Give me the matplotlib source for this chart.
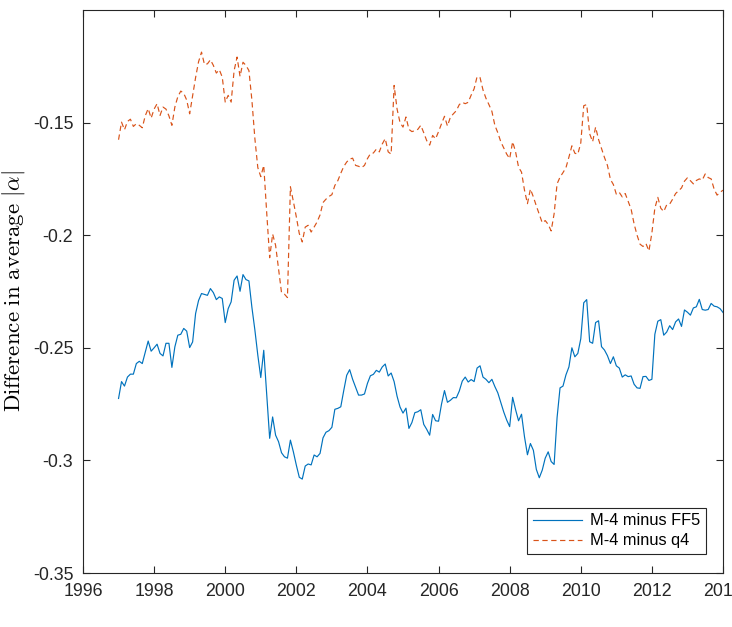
# -*- coding: utf-8 -*-
"""
difference in average |alpha|, monthly
"""
import numpy as np
import matplotlib
matplotlib.use('Agg')
import matplotlib.pyplot as plt

#====================================================
#                      Data
#====================================================
start_year = 1997

# M-4 minus FF5, one row per year (Jan..Dec)
ff5 = [
    -0.2725, -0.265, -0.267, -0.263, -0.2617, -0.2617, -0.257, -0.256, -0.257, -0.252, -0.247, -0.2515,
    -0.250, -0.2484, -0.2525, -0.2536, -0.248, -0.248, -0.2587, -0.2496, -0.2444, -0.244, -0.2414, -0.2426,
    -0.2499, -0.2474, -0.2348, -0.229, -0.2259, -0.2263, -0.2267, -0.2237, -0.2255, -0.2286, -0.2274, -0.2281,
    -0.2388, -0.2326, -0.2296, -0.220, -0.2181, -0.2249, -0.2175, -0.2197, -0.2203, -0.232, -0.242, -0.2533,
    -0.2632, -0.2511, -0.2703, -0.2902, -0.2807, -0.2888, -0.2917, -0.2966, -0.2984, -0.299, -0.291, -0.2962,
    -0.3021, -0.3075, -0.3083, -0.3025, -0.3016, -0.302, -0.2976, -0.2984, -0.2969, -0.290, -0.2875, -0.2868,
    -0.2853, -0.2773, -0.2769, -0.2762, -0.2690, -0.2622, -0.2597, -0.2640, -0.2675, -0.2710, -0.2710, -0.2705,
    -0.2658, -0.2624, -0.2618, -0.2600, -0.2608, -0.2585, -0.2572, -0.2625, -0.2612, -0.2650, -0.2715, -0.2763,
    -0.2790, -0.2768, -0.2858, -0.2832, -0.2788, -0.2784, -0.2775, -0.2840, -0.2862, -0.2888, -0.2796, -0.2824,
    -0.2826, -0.2750, -0.2690, -0.2742, -0.2733, -0.2721, -0.2722, -0.2692, -0.2648, -0.2630, -0.2652, -0.2641,
    -0.2650, -0.2590, -0.2580, -0.2630, -0.2640, -0.2655, -0.2640, -0.2672, -0.2700, -0.2742, -0.2785, -0.2821,
    -0.2850, -0.2720, -0.2775, -0.2824, -0.2795, -0.2895, -0.2975, -0.2925, -0.2955, -0.3040, -0.3077, -0.3043,
    -0.2990, -0.2962, -0.3005, -0.3018, -0.2810, -0.2678, -0.2670, -0.2620, -0.2585, -0.2500, -0.2540, -0.2525,
    -0.2460, -0.2300, -0.2286, -0.2473, -0.2480, -0.2388, -0.2380, -0.2495, -0.2510, -0.2535, -0.2570, -0.2540,
    -0.2580, -0.2590, -0.2630, -0.2620, -0.2628, -0.2625, -0.2662, -0.2678, -0.2680, -0.2628, -0.2627, -0.2645,
    -0.2640, -0.2440, -0.2382, -0.2375, -0.2444, -0.2430, -0.2402, -0.2419, -0.2385, -0.2372, -0.2405, -0.2332,
    -0.2342, -0.2355, -0.2323, -0.2318, -0.2285, -0.2330, -0.2333, -0.2330, -0.2303, -0.2315, -0.2318, -0.2326,
    -0.2343,
]

# M-4 minus q4
q4 = [
    -0.1576, -0.1498, -0.1532, -0.1495, -0.1485, -0.1517, -0.1505, -0.1512, -0.1523, -0.1470, -0.1438, -0.1480,
    -0.1440, -0.1416, -0.1468, -0.1431, -0.1440, -0.1470, -0.1512, -0.1431, -0.1385, -0.1360, -0.1370, -0.1400,
    -0.1461, -0.1380, -0.1300, -0.1230, -0.1187, -0.1242, -0.1239, -0.1221, -0.1246, -0.1280, -0.1265, -0.1298,
    -0.1409, -0.1379, -0.1409, -0.1269, -0.1209, -0.1295, -0.1232, -0.1246, -0.1269, -0.1400, -0.1570, -0.1700,
    -0.1740, -0.1690, -0.1900, -0.2100, -0.1995, -0.2045, -0.2150, -0.2255, -0.2262, -0.2277, -0.1785, -0.1850,
    -0.1919, -0.1993, -0.2030, -0.1964, -0.1956, -0.1986, -0.1964, -0.1941, -0.1910, -0.1855, -0.1840, -0.1828,
    -0.1820, -0.1779, -0.1758, -0.1725, -0.1695, -0.1675, -0.1662, -0.1658, -0.1690, -0.1694, -0.1700, -0.1690,
    -0.1660, -0.1638, -0.1635, -0.1618, -0.1630, -0.1595, -0.1571, -0.1630, -0.1640, -0.1335, -0.1440, -0.1500,
    -0.1520, -0.1475, -0.1530, -0.1540, -0.1536, -0.1530, -0.1512, -0.1545, -0.1580, -0.1600, -0.1557, -0.1572,
    -0.1540, -0.1505, -0.1472, -0.1515, -0.1476, -0.1461, -0.1447, -0.1420, -0.1410, -0.1416, -0.1410, -0.1378,
    -0.1350, -0.1296, -0.1300, -0.1355, -0.1392, -0.1420, -0.1450, -0.1512, -0.1545, -0.1585, -0.1612, -0.1640,
    -0.1660, -0.1585, -0.1630, -0.1698, -0.1720, -0.1800, -0.1860, -0.1795, -0.1830, -0.1870, -0.1908, -0.1945,
    -0.1935, -0.1952, -0.1981, -0.1905, -0.1772, -0.1742, -0.1722, -0.1700, -0.1653, -0.1603, -0.1636, -0.1640,
    -0.1590, -0.1425, -0.1420, -0.1550, -0.1585, -0.1520, -0.1575, -0.1615, -0.1655, -0.1690, -0.1752, -0.1775,
    -0.1818, -0.1810, -0.1830, -0.1815, -0.1850, -0.1885, -0.1950, -0.2000, -0.2040, -0.2050, -0.2037, -0.2070,
    -0.1990, -0.1880, -0.1832, -0.1880, -0.1895, -0.1865, -0.1862, -0.1840, -0.1815, -0.1803, -0.1790, -0.1760,
    -0.1745, -0.1758, -0.1772, -0.1757, -0.1750, -0.1755, -0.1728, -0.1744, -0.1750, -0.1795, -0.1822, -0.1810,
    -0.1800,
]

labels = ['M-4 minus FF5', 'M-4 minus q4']
x_ticks = list(range(1996, 2015, 2))
y_ticks = [-0.35, -0.3, -0.25, -0.2, -0.15]

# monthly time axis in decimal years
t = start_year + np.arange(len(ff5)) / 12.0

#====================================================
#                       Plotting
#====================================================
plt.rcParams['font.family'] = ['Liberation Sans', 'DejaVu Sans']
plt.rcParams['mathtext.fontset'] = 'cm'

ax_col = '#262626'
fig = plt.figure(figsize=(7.32, 6.27), dpi=100)
ax = fig.add_axes([83/732, 1 - 573/627, 640/732, 563/627])

ax.plot(t, ff5, color='#0072BD', lw=0.85, label=labels[0])
ax.plot(t, q4, color='#D95319', lw=0.85, ls=(0, (4.5, 3)), label=labels[1])

ax.set_xlim(1996, 2014)
ax.set_ylim(-0.35, -0.10)
ax.set_xticks(x_ticks)
ax.set_yticks(y_ticks)
ax.set_yticklabels(['%g' % v for v in y_ticks])

ax.tick_params(direction='in', length=5, width=0.8, colors=ax_col,
               top=True, right=True, labelsize=12.8)
ax.tick_params(axis='y', pad=7)
ax.tick_params(axis='x', pad=7)
for s in ax.spines.values():
    s.set_color(ax_col)
    s.set_linewidth(0.8)

ax.set_ylabel(r'$\mathrm{Difference\ in\ average}\ |\alpha|$', fontsize=16.5,
              color='black')
# keep the rotated label just inside the left figure edge
ax.yaxis.set_label_coords(-0.087, 0.5)

leg = ax.legend(loc='lower right', bbox_to_anchor=(0.9734, 0.0337),
                borderaxespad=0, fontsize=11.8, handlelength=3.0,
                handletextpad=0.5, labelspacing=0.3, borderpad=0.35,
                fancybox=False, framealpha=1, edgecolor=ax_col)
leg.get_frame().set_linewidth(0.8)

plt.savefig('out.png', dpi=100)
